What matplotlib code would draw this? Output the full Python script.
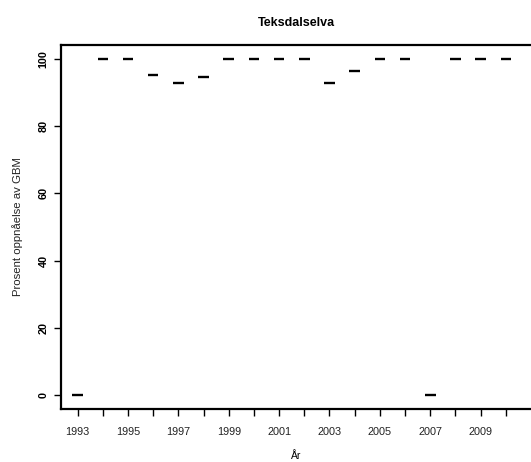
import matplotlib
matplotlib.use('Agg')
import matplotlib.pyplot as plt
import numpy as np

plt.rcParams['font.family'] = ['Liberation Sans', 'DejaVu Sans']

# Data: percent achievement per year
years = np.arange(1993, 2011)
values = [0, 100, 100, 95.4, 92.9, 94.7, 100, 100, 100, 100,
          92.8, 96.6, 100, 100, 0, 100, 100, 100]
yticks = [0, 20, 40, 60, 80, 100]

fig = plt.figure(figsize=(5.31, 4.62), dpi=100)
ax = fig.add_axes([61 / 531, 53 / 462, 1 - 61 / 531, 364 / 462])

# median-like bars
ax.hlines(values, years - 0.21, years + 0.21, colors='black', linewidth=1.7)

ax.set_xlim(1992.34, 2011.0)
ax.set_ylim(-4.2, 104.2)

ax.set_xticks(years)
ax.set_xticklabels([str(y) if (y - 1993) % 2 == 0 else '' for y in years],
                   fontsize=7.8, color='#222222')
ax.set_yticks(yticks)
ax.set_yticklabels([str(v) for v in yticks], rotation=90, va='center',
                   fontsize=7.8, fontweight='bold')
ax.tick_params(axis='both', length=5, width=1.0, color='black')
ax.tick_params(axis='x', pad=8)
ax.tick_params(axis='y', pad=4)

for side in ['left', 'bottom', 'top']:
    ax.spines[side].set_linewidth(1.6)
ax.spines['right'].set_visible(False)

ax.set_title('Teksdalselva', fontsize=9, fontweight='bold', pad=14)
ax.set_xlabel('År', fontsize=7.5, labelpad=10)
ax.set_ylabel('Prosent oppnåelse av GBM', fontsize=8.2, labelpad=11,
              color='#222222')

fig.savefig('out.png', dpi=100)
